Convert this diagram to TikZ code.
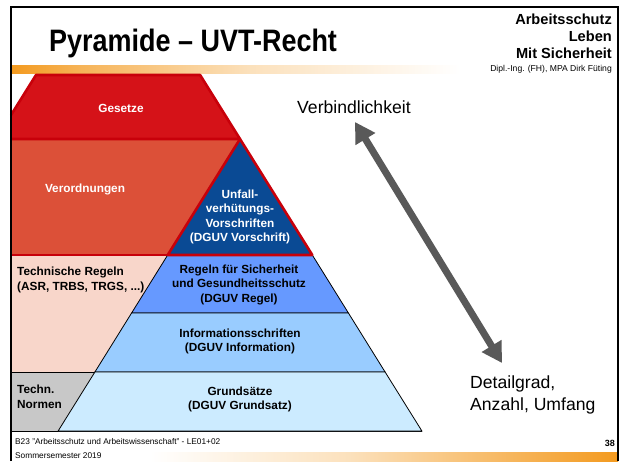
\documentclass[tikz,border=0pt]{standalone}
\usepackage{fontspec}
\setmainfont{Liberation Sans}
\usetikzlibrary{arrows.meta}
\definecolor{orangeC}{HTML}{F39A1F}
\definecolor{gesetzeC}{HTML}{D51218}
\definecolor{redlineC}{HTML}{C8000A}
\definecolor{verordC}{HTML}{DC5038}
\definecolor{dgblueC}{HTML}{0A4A94}
\definecolor{regelnC}{HTML}{6699FF}
\definecolor{infoC}{HTML}{99CCFF}
\definecolor{grundC}{HTML}{CCEBFF}
\definecolor{pinkC}{HTML}{F8D6CA}
\definecolor{grayC}{HTML}{C8C8C8}
\definecolor{arrowC}{HTML}{595959}
\tikzset{
  frameline/.style={draw=black, line width=1.5pt},
  redline/.style={draw=redlineC, line width=2.6pt, line join=round},
  thinline/.style={draw=black, line width=0.8pt},
  lbl/.style={font=\bfseries\fontsize{11.8}{14.5}\selectfont, align=center, inner sep=0pt},
  lbll/.style={font=\bfseries\fontsize{11.8}{14.5}\selectfont, align=left, inner sep=0pt, anchor=west},
  big/.style={font=\fontsize{17.6}{22}\selectfont, inner sep=0pt},
  small/.style={font=\fontsize{8.3}{10}\selectfont, inner sep=0pt},
  hdr/.style={font=\bfseries\fontsize{14.6}{17}\selectfont, anchor=base east, inner sep=0pt},
}
\begin{document}
\begin{tikzpicture}[x=1pt,y=-1pt]
\useasboundingbox (0,0) rectangle (624,461);
\fill[white] (0,0) rectangle (624,461);
% bars
\shade[left color=orangeC, right color=orangeC!75] (11,65) rectangle (80.5,73);
\shade[left color=orangeC!75, right color=orangeC!30] (80,65) rectangle (250.5,73);
\shade[left color=orangeC!30, right color=white] (250,65) rectangle (460,73);
\shade[left color=white, right color=orangeC!30] (150,452) rectangle (350.5,461);
\shade[left color=orangeC!30, right color=orangeC!80] (350,452) rectangle (540.5,461);
\shade[left color=orangeC!80, right color=orangeC] (540,452) rectangle (618,461);
% left boxes
\fill[pinkC] (11,255) rectangle (200,372);
\fill[grayC] (11,372) rectangle (120,431);
\draw[thinline] (11,372) -- (95,372);
\draw[thinline] (11,431) -- (421.9,431);
% lower pyramid
\draw[thinline, fill=regelnC] (167.7,255) -- (312.3,255) -- (348.4,313) -- (131.6,313) -- cycle;
\draw[thinline, fill=infoC] (131.6,313) -- (348.4,313) -- (385.1,372) -- (94.9,372) -- cycle;
\draw[thinline, fill=grundC] (94.9,372) -- (385.1,372) -- (421.9,431) -- (58.1,431) -- cycle;
% upper part
\fill[verordC] (11,139) rectangle (240,255);
\draw[redline, fill=gesetzeC] (11,115.1) -- (36,75) -- (200.1,75) -- (240,139) -- (11,139);
\draw[redline, fill=dgblueC] (240,139) -- (312.3,255) -- (167.7,255) -- cycle;
\draw[redline] (11,255) -- (312.3,255);
% frame
\draw[frameline] (11,461) -- (11,7) -- (618,7) -- (618,461);
% header
\node[anchor=base west, inner sep=0pt] (title) at (49,51) {\scalebox{0.87}[1]{\bfseries\fontsize{31}{34}\selectfont Pyramide – UVT-Recht}};
\node[hdr] (h1) at (612,24) {Arbeitsschutz};
\node[hdr] (h2) at (612,41) {Leben};
\node[hdr] (h3) at (612,58) {Mit Sicherheit};
\node[anchor=base east, inner sep=0pt, font=\fontsize{8.6}{10}\selectfont] (h4) at (612,71) {Dipl.-Ing. (FH), MPA Dirk Füting};
% labels
\node[lbl, text=white] (gesetze) at (121,108) {Gesetze};
\node[lbl, text=white] (verord) at (85,189) {Verordnungen};
\node[lbl, text=white] (uvv) at (240,217) {Unfall-\\verhütungs-\\Vorschriften\\(DGUV Vorschrift)};
\node[lbll] (techregeln) at (17,280) {Technische Regeln\\(ASR, TRBS, TRGS, ...)};
\node[lbll] (technormen) at (17,397) {Techn.\\Normen};
\node[lbl] (regeln) at (239,284.5) {Regeln für Sicherheit\\und Gesundheitsschutz\\(DGUV Regel)};
\node[lbl] (info) at (240,341.5) {Informationsschriften\\(DGUV Information)};
\node[lbl] (grund) at (240,399.5) {Grundsätze\\(DGUV Grundsatz)};
% arrow
\node[big, anchor=base west] (verb) at (297,113) {Verbindlichkeit};
\node[big, anchor=base west] (detail1) at (470,388) {Detailgrad,};
\node[big, anchor=base west] (detail2) at (470,410) {Anzahl, Umfang};
\coordinate (vtip) at (355,122);
\coordinate (dtip) at (502,363);
\draw[arrowC, line width=7pt, {Triangle[length=20pt,width=22pt]}-{Triangle[length=20pt,width=22pt]}] (vtip) -- (dtip);
% footer
\node[small, anchor=base west] (foot1) at (15,444) {B23 "Arbeitsschutz und Arbeitswissenschaft" - LE01+02};
\node[small, anchor=base west] (foot2) at (15,458) {Sommersemester 2019};
\node[font=\bfseries\fontsize{9}{10}\selectfont, inner sep=0pt, anchor=base east] (page) at (615,446) {38};
\end{tikzpicture}
\end{document}
